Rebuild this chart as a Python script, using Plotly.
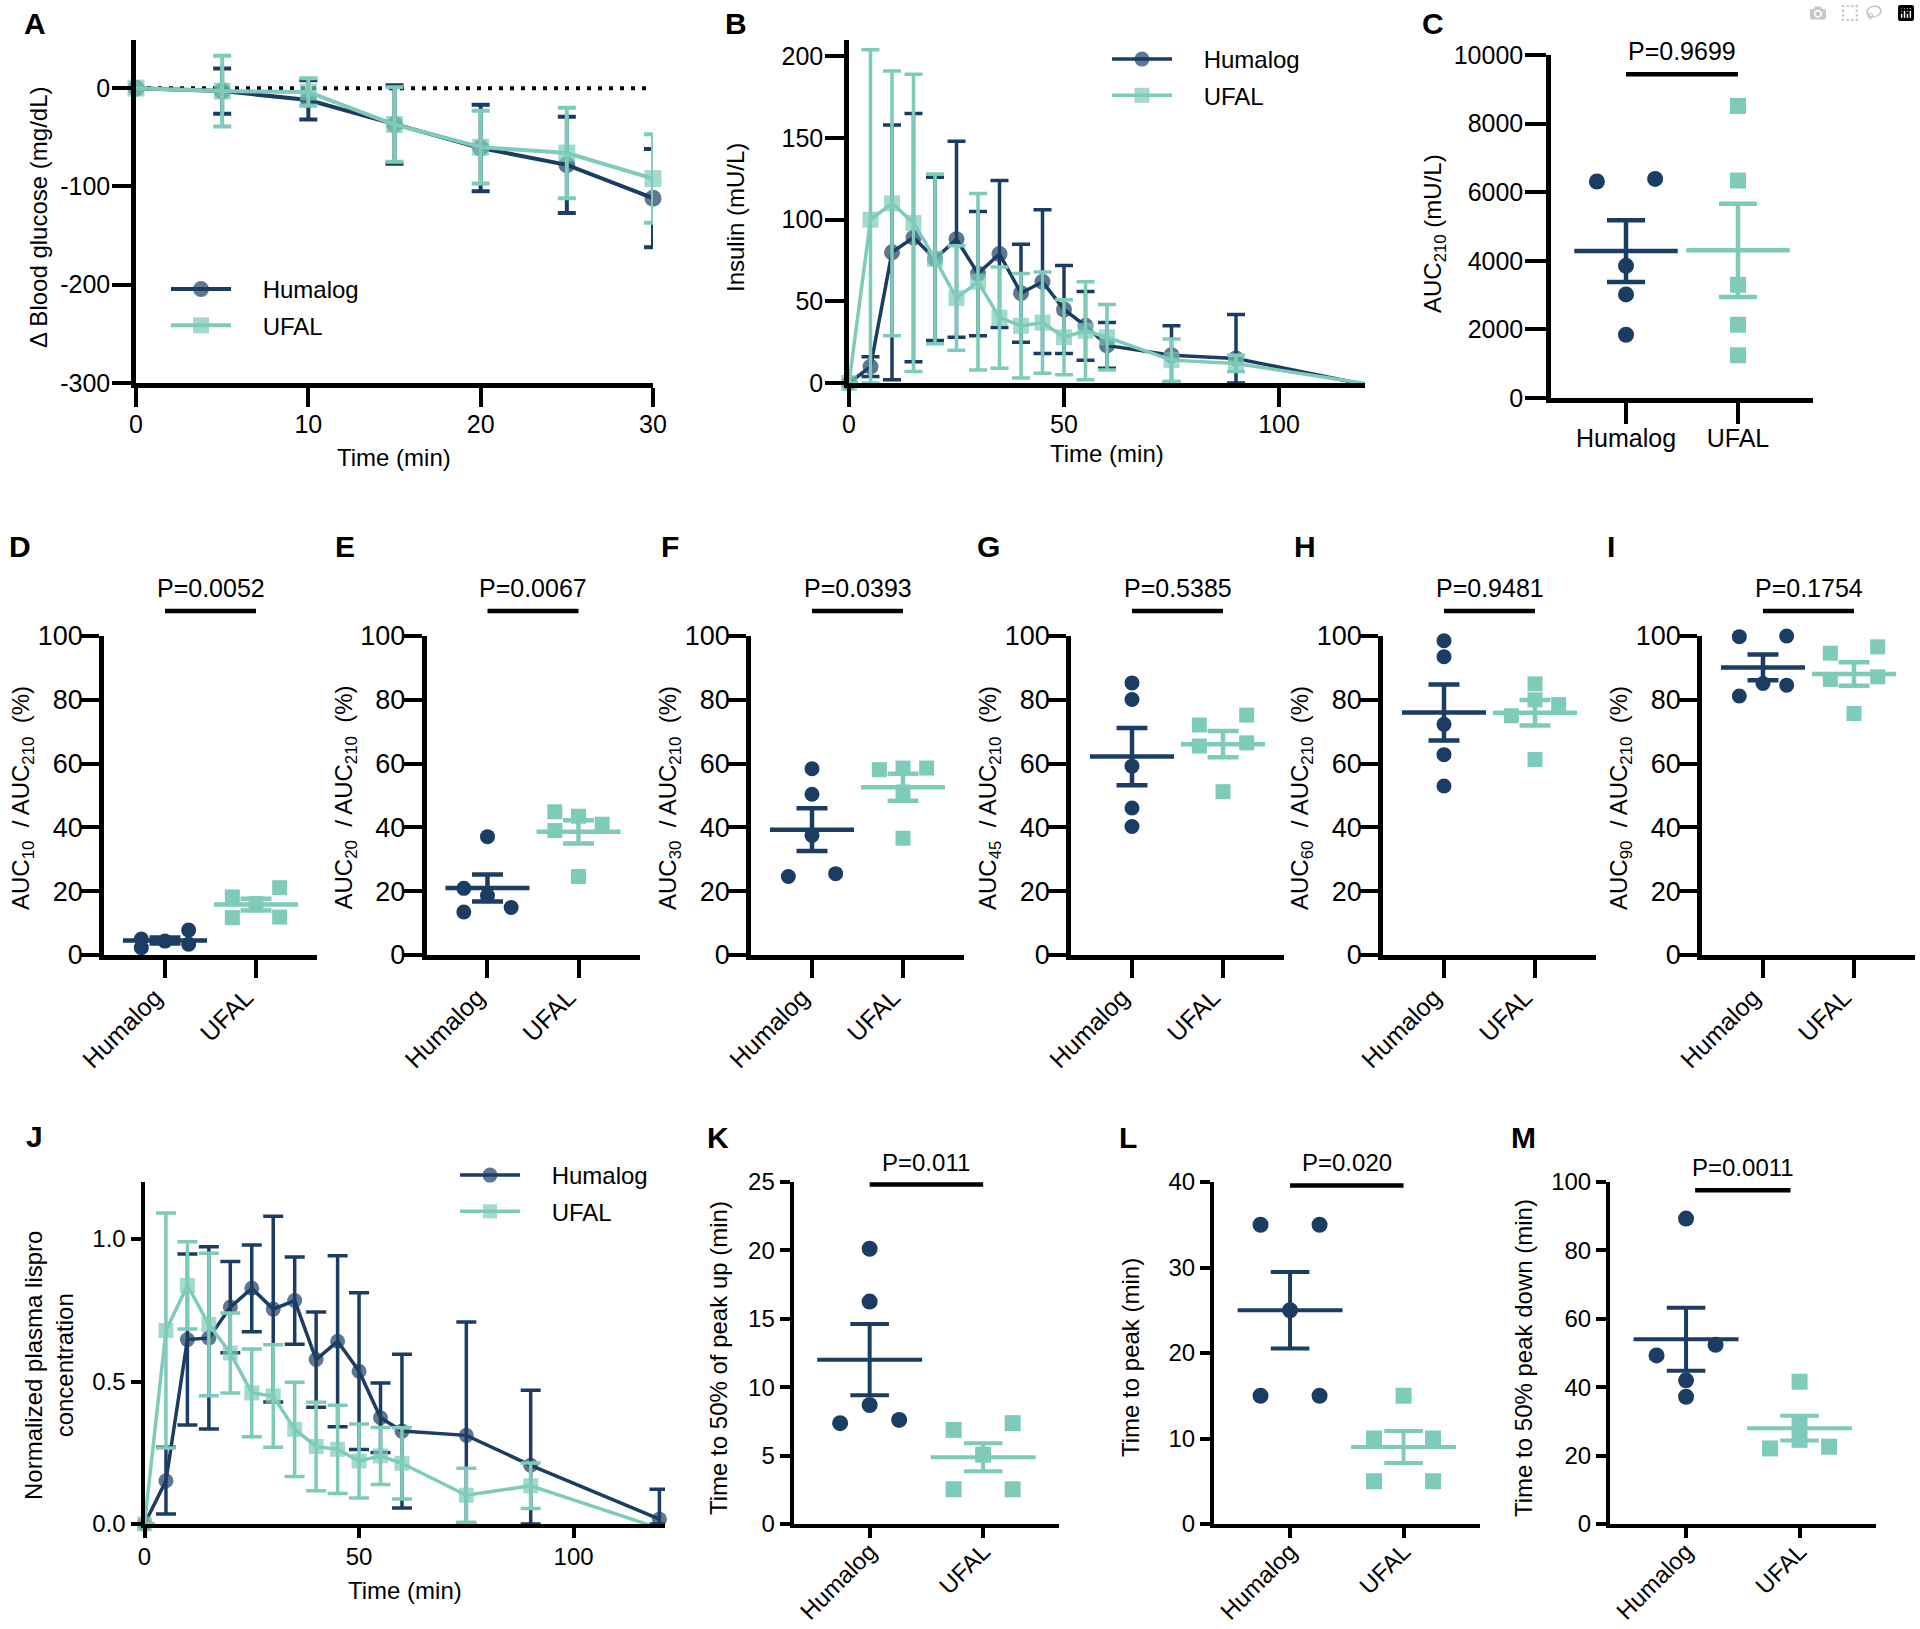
import numpy as np
import plotly.graph_objects as go

W, H = 1920, 1629
NAVY = "#1c3d63"
TEAL = "#7ecbb9"
FONT = "Liberation Sans, Arial, Helvetica, sans-serif"

GROUPS = ["Humalog", "UFAL"]

# ---------------- data ----------------
# A: change in blood glucose (mean, SEM)
A_time = [0, 5, 10, 15, 20, 25, 30]
A_hum_mean = [0, -3, -12, -37, -61, -78, -112]
A_hum_sem = [0, 23, 20, 40, 44, 49, 50]
A_ufal_mean = [0, -3, -4, -37, -60, -66, -92]
A_ufal_sem = [0, 36, 14, 38, 37, 46, 45]

# B: insulin (mU/L)
B_time = [0, 5, 10, 15, 20, 25, 30, 35, 40, 45, 50, 55, 60, 75, 90, 120]
B_hum_mean = [0, 10, 80, 89, 76, 88, 67, 79, 55, 62, 45, 35, 23, 17, 15, -1]
B_hum_sem = [0, 6, 78, 76, 50, 60, 38, 45, 30, 44, 27, 21, 14, 18, 27, 0]
B_ufal_mean = [0, 100, 110, 98, 76, 52, 62, 40, 35, 37, 28, 32, 28, 14, 12, -0.3]
B_ufal_sem = [0, 104, 81, 91, 52, 32, 54, 31, 32, 31, 23, 30, 20, 13, 5, 0]

# C: AUC210
C_hum = [6388, 6311, 3854, 3019, 1845]
C_ufal = [8515, 6340, 3301, 2136, 1243]

# D-I: AUCx / AUC210 (%)
D_hum = [2.3, 3.4, 4.35, 5.0, 7.8]
D_ufal = [21.1, 18.2, 16.1, 11.9, 11.7]
E_hum = [37.1, 20.9, 18.6, 14.9, 13.5]
E_ufal = [44.9, 43.5, 41.0, 39.0, 24.6]
F_hum = [58.4, 50.4, 37.5, 25.5, 24.6]
F_ufal = [58.6, 58.6, 58.1, 51.1, 36.6]
G_hum = [85.3, 80.1, 59.2, 46.1, 40.3]
G_ufal = [75.2, 72.1, 66.5, 65.5, 51.2]
H_hum = [98.5, 93.5, 72.3, 62.8, 53.0]
H_ufal = [85.0, 80.0, 78.5, 75.0, 61.3]
I_hum = [100.0, 99.8, 85.1, 84.6, 81.2]
I_ufal = [96.6, 94.6, 87.2, 86.4, 75.7]

# J: normalized plasma lispro
J_time = [0, 5, 10, 15, 20, 25, 30, 35, 40, 45, 50, 55, 60, 75, 90, 120]
J_hum_mean = [0, 0.152, 0.647, 0.653, 0.761, 0.827, 0.754, 0.784, 0.577, 0.641,
              0.536, 0.373, 0.326, 0.311, 0.206, 0.017]
J_hum_sem = [0, 0.117, 0.30, 0.32, 0.16, 0.152, 0.326, 0.153, 0.167, 0.30,
             0.275, 0.122, 0.27, 0.398, 0.263, 0.105]
J_ufal_mean = [0, 0.679, 0.837, 0.70, 0.60, 0.46, 0.449, 0.332, 0.272, 0.262,
               0.221, 0.239, 0.213, 0.101, 0.134, -0.015]
J_ufal_sem = [0, 0.412, 0.153, 0.25, 0.14, 0.154, 0.18, 0.165, 0.155, 0.155,
              0.13, 0.10, 0.125, 0.095, 0.08, 0]

# K-M
K_hum = [20.12, 16.26, 8.70, 7.61, 7.37]
K_ufal = [7.37, 6.88, 5.07, 2.54, 2.54]
L_hum = [35, 35, 25, 15, 15]
L_ufal = [15, 10, 10, 5, 5]
M_hum = [89.3, 52.4, 49.3, 42.0, 37.2]
M_ufal = [41.6, 29.1, 24.6, 22.6, 22.1]

P_TEXT = {"C": "P=0.9699", "D": "P=0.0052", "E": "P=0.0067", "F": "P=0.0393",
          "G": "P=0.5385", "H": "P=0.9481", "I": "P=0.1754", "K": "P=0.011",
          "L": "P=0.020", "M": "P=0.0011"}

# ---------------- helpers ----------------
fig = go.Figure()
layout = dict(annotations=[], shapes=[])
_count = [0]


def new_axes(xpx, ypx, xrange, yrange, xtick, ytick, xtext=None, ytext=None,
             tick_font=24, xtick_font=None, ticklen=19, tickw=4, linew=4.5, xangle=0,
             xstand=0, ystand=0, xshift=0):
    _count[0] += 1
    n = _count[0]
    s = "" if n == 1 else str(n)
    common = dict(showline=True, linecolor="black", linewidth=linew, ticks="outside",
                  ticklen=ticklen, tickwidth=tickw, tickcolor="black", showgrid=False,
                  zeroline=False, fixedrange=True, tickmode="array", automargin=False)
    layout["xaxis" + s] = dict(common, domain=[xpx[0] / W, xpx[1] / W], range=xrange,
                               anchor="y" + s, tickvals=xtick,
                               ticktext=xtext or [str(v) for v in xtick], tickangle=xangle,
                               ticklabelstandoff=xstand, ticklabelshift=xshift,
                               tickfont=dict(family=FONT, size=xtick_font or tick_font, color="black"))
    layout["yaxis" + s] = dict(common, domain=[1 - ypx[1] / H, 1 - ypx[0] / H], range=yrange,
                               anchor="x" + s, tickvals=ytick,
                               ticktext=ytext or [str(v) for v in ytick],
                               ticklabelstandoff=ystand,
                               tickfont=dict(family=FONT, size=tick_font, color="black"))
    return "x" + s, "y" + s


def text(xp, yp, t, size=24, angle=0, bold=False, xanchor="center"):
    layout["annotations"].append(dict(
        xref="paper", yref="paper", x=xp / W, y=1 - yp / H, text=("<b>%s</b>" % t) if bold else t,
        showarrow=False, textangle=angle, xanchor=xanchor, yanchor="middle",
        font=dict(family=FONT, size=size, color="black")))


def line_series(xid, yid, t, mean, sem, color, symbol, msize, lw, name, legend, ymin, cap=9):
    mean = np.asarray(mean, float)
    sem = np.asarray(sem, float)
    vis = mean >= ymin
    ep = np.where(vis, sem, 0.0)
    em = np.where(vis, np.minimum(sem, mean - ymin), 0.0)
    sizes = np.where(vis, msize, 0)
    fig.add_trace(go.Scatter(
        x=t, y=mean, mode="lines+markers", name="\u00a0\u00a0\u00a0\u00a0" + name,
        legend=legend, legendgroup=legend + name, xaxis=xid, yaxis=yid,
        line=dict(color=color, width=lw),
        marker=dict(symbol=symbol, size=sizes, color=color, line=dict(width=0)),
        error_y=dict(type="data", symmetric=False, array=ep, arrayminus=em,
                     color=color, thickness=lw, width=cap),
        cliponaxis=False))


LANE = 0.26


def swarm_lanes(values, ppu, d=15.0):
    v = np.asarray(values, float)
    order = np.argsort(v, kind="stable")
    sv = v[order]
    comps, cur = [], [0]
    for i in range(1, len(sv)):
        if (sv[i] - sv[i - 1]) * ppu < d:
            cur.append(i)
        else:
            comps.append(cur)
            cur = [i]
    comps.append(cur)
    lanes = np.zeros(len(sv))
    pattern = [-1, 1, 0]
    for c in comps:
        if len(c) == 1:
            continue
        placed = []
        for k, i in enumerate(c):
            pref = pattern[k % 3]
            cands = [pref] + [p for p in pattern if p != pref]
            best, bestd = None, -1
            for lane in cands:
                dists = [abs(sv[i] - sv[j]) * ppu for j in placed if lanes[j] == lane]
                md = min(dists) if dists else 1e9
                if md >= d:
                    best = lane
                    break
                if md > bestd:
                    bestd, best = md, lane
            lanes[i] = best
            placed.append(i)
    out = np.zeros(len(sv))
    out[order] = lanes
    return out


def dot_panel(xid, yid, hum, ufal, ppu, spacing, msize, lw, key, bar_y, text_y,
              bar_x=(0, 1), pfont=25):
    for gi, (vals, color, sym) in enumerate([(hum, NAVY, "circle"), (ufal, TEAL, "square")]):
        lanes = swarm_lanes(vals, ppu)
        fig.add_trace(go.Scatter(
            x=gi + LANE * lanes, y=vals, mode="markers", xaxis=xid, yaxis=yid,
            marker=dict(symbol=sym, size=msize, color=color, line=dict(width=0)),
            showlegend=False, cliponaxis=False, hoverinfo="y"))
    for gi, (vals, color) in enumerate([(hum, NAVY), (ufal, TEAL)]):
        v = np.asarray(vals, float)
        m = v.mean()
        sem = v.std(ddof=1) / np.sqrt(len(v))
        fig.add_trace(go.Scatter(
            x=[gi], y=[m], mode="markers", xaxis=xid, yaxis=yid,
            marker=dict(symbol="line-ew", size=0.66 * spacing, color=color,
                        line=dict(width=lw, color=color)),
            error_y=dict(type="data", array=[sem], color=color, thickness=lw,
                         width=0.17 * spacing),
            showlegend=False, cliponaxis=False))
    layout["shapes"].append(dict(type="line", xref=xid, yref=yid + " domain",
                                 x0=bar_x[0], x1=bar_x[1], y0=bar_y, y1=bar_y,
                                 line=dict(color="black", width=4.5)))
    layout["annotations"].append(dict(xref=xid, yref=yid + " domain", x=0.5, y=text_y,
                                      text=P_TEXT[key], showarrow=False, xanchor="center",
                                      yanchor="middle",
                                      font=dict(family=FONT, size=pfont, color="black")))


CAT_RANGE = [-0.67, 1.67]

# ---------------- Panel A ----------------
xa, ya = new_axes((136, 653), (40, 383), [0, 30], [-300, 49], [0, 10, 20, 30],
                  [0, -100, -200, -300], tick_font=25, xstand=-4, ystand=-3)
layout["shapes"].append(dict(type="line", xref=xa, yref=ya, x0=A_time[0], x1=A_time[-1],
                             y0=0, y1=0, layer="below",
                             line=dict(color="black", width=4, dash="4px,7px")))
line_series(xa, ya, A_time, A_hum_mean, A_hum_sem, NAVY, "circle", 17, 4, GROUPS[0], "legend", -300)
line_series(xa, ya, A_time, A_ufal_mean, A_ufal_sem, TEAL, "square", 17, 4, GROUPS[1], "legend", -300)
text(38, 217, "Δ Blood glucose (mg/dL)", angle=-90)
text(394, 457, "Time (min)")

# ---------------- Panel B ----------------
xb, yb = new_axes((849, 1365), (40, 383), [0, 120], [0, 210], [0, 50, 100],
                  [0, 50, 100, 150, 200], tick_font=25, xstand=-4, ystand=-3)
line_series(xb, yb, B_time, B_hum_mean, B_hum_sem, NAVY, "circle", 16, 3.5, GROUPS[0], "legend2", 0)
line_series(xb, yb, B_time, B_ufal_mean, B_ufal_sem, TEAL, "square", 16, 3.5, GROUPS[1], "legend2", 0)
text(735, 218, "Insulin (mU/L)", angle=-90)
text(1107, 453, "Time (min)")

# ---------------- Panel C ----------------
xc, yc = new_axes((1551, 1813), (55, 398), CAT_RANGE, [0, 10000], [0, 1],
                  [0, 2000, 4000, 6000, 8000, 10000], xtext=GROUPS, ticklen=21,
                  xtick_font=25, tick_font=25, xstand=-7, ystand=-3)
dot_panel(xc, yc, C_hum, C_ufal, 343 / 10000, 112, 16, 4.5, "C", 0.944, 1.012)
text(1435, 234, "AUC<sub>210</sub> (mU/L)", angle=-90)

# ---------------- Panels D-I ----------------
row2_axes = [104, 426.5, 751, 1071, 1383, 1702]
row2_data = [("D", D_hum, D_ufal, "10"), ("E", E_hum, E_ufal, "20"), ("F", F_hum, F_ufal, "30"),
             ("G", G_hum, G_ufal, "45"), ("H", H_hum, H_ufal, "60"), ("I", I_hum, I_ufal, "90")]
for x0, (key, hv, uv, sub) in zip(row2_axes, row2_data):
    xi, yi = new_axes((x0, x0 + 213), (636, 955), CAT_RANGE, [0, 100], [0, 1],
                      [0, 20, 40, 60, 80, 100], xtext=GROUPS, tick_font=27, xtick_font=25,
                      ticklen=18, xangle=-45, xstand=-5, ystand=-7, xshift=-10)
    dot_panel(xi, yi, hv, uv, 319 / 100, 91, 15, 4.5, key, 1.078, 1.152)
    text(x0 - 82, 798, "AUC<sub>%s</sub>  / AUC<sub>210</sub>  (%%)" % sub, angle=-90)

# ---------------- Panel J ----------------
xj, yj = new_axes((144.5, 665), (1182, 1524), [0, 121.3], [0, 1.2], [0, 50, 100],
                  [0, 0.5, 1.0], ytext=["0.0", "0.5", "1.0"], ticklen=10, tickw=3.5, linew=4,
                  xstand=-2)
line_series(xj, yj, J_time, J_hum_mean, J_hum_sem, NAVY, "circle", 15, 3.5, GROUPS[0], "legend3", 0, cap=10)
line_series(xj, yj, J_time, J_ufal_mean, J_ufal_sem, TEAL, "square", 15, 3.5, GROUPS[1], "legend3", 0, cap=10)
text(49, 1366, "Normalized plasma lispro<br>concentration", angle=-90)
text(405, 1590, "Time (min)")

# ---------------- Panels K-M ----------------
xk, yk = new_axes((793.6, 1059.2), (1182, 1524), CAT_RANGE, [0, 25], [0, 1],
                  [0, 5, 10, 15, 20, 25], xtext=GROUPS, ticklen=10, tickw=3.5, linew=4,
                  xangle=-45, xstand=-10)
dot_panel(xk, yk, K_hum, K_ufal, 342 / 25, 113.5, 16, 4, "K", 0.993, 1.058, pfont=24)
text(718, 1358, "Time to 50% of peak up (min)", angle=-90)

xl, yl = new_axes((1214, 1479.6), (1182, 1524), CAT_RANGE, [0, 40], [0, 1],
                  [0, 10, 20, 30, 40], xtext=GROUPS, ticklen=10, tickw=3.5, linew=4,
                  xangle=-45, xstand=-10)
dot_panel(xl, yl, L_hum, L_ufal, 342 / 40, 113.5, 16, 4, "L", 0.99, 1.058, pfont=24)
text(1130, 1358, "Time to peak (min)", angle=-90)

xm, ym = new_axes((1610, 1875.6), (1182, 1524), CAT_RANGE, [0, 100], [0, 1],
                  [0, 20, 40, 60, 80, 100], xtext=GROUPS, ticklen=10, tickw=3.5, linew=4,
                  xangle=-45, xstand=-10)
dot_panel(xm, ym, M_hum, M_ufal, 342 / 100, 113.5, 16, 4, "M", 0.976, 1.042, bar_x=(0.08, 0.92), pfont=24)
text(1523, 1358, "Time to 50% peak down (min)", angle=-90)

# ---------------- panel letters ----------------
for letter, lx, ly in [("A", 22, 24), ("B", 723, 24), ("C", 1420, 24), ("D", 7, 547),
                       ("E", 333, 547), ("F", 659, 547), ("G", 975, 547), ("H", 1292, 547),
                       ("I", 1605, 547), ("J", 24, 1136), ("K", 705, 1137), ("L", 1117, 1137),
                       ("M", 1509, 1137)]:
    text(lx, ly, letter, size=30, bold=True, xanchor="left")

# ---------------- legends ----------------
def legend_at(xp, yp):
    return dict(x=xp / W, y=1 - yp / H, xanchor="left", yanchor="top", bgcolor="rgba(0,0,0,0)",
                borderwidth=0, itemwidth=60, tracegroupgap=2, traceorder="grouped",
                font=dict(family=FONT, size=24, color="black"), itemclick=False,
                itemdoubleclick=False)

layout["legend"] = legend_at(166, 267)
layout["legend2"] = legend_at(1107, 37)
layout["legend3"] = legend_at(455, 1153)

fig.update_layout(**layout)
fig.update_layout(width=W, height=H, margin=dict(l=0, r=0, t=0, b=0, autoexpand=False),
                  autosize=False, paper_bgcolor="white", plot_bgcolor="white", showlegend=True,
                  font=dict(family=FONT, size=24, color="black"), hovermode=False)

fig.write_html("out.html", post_script="document.body.style.margin='0px';")
